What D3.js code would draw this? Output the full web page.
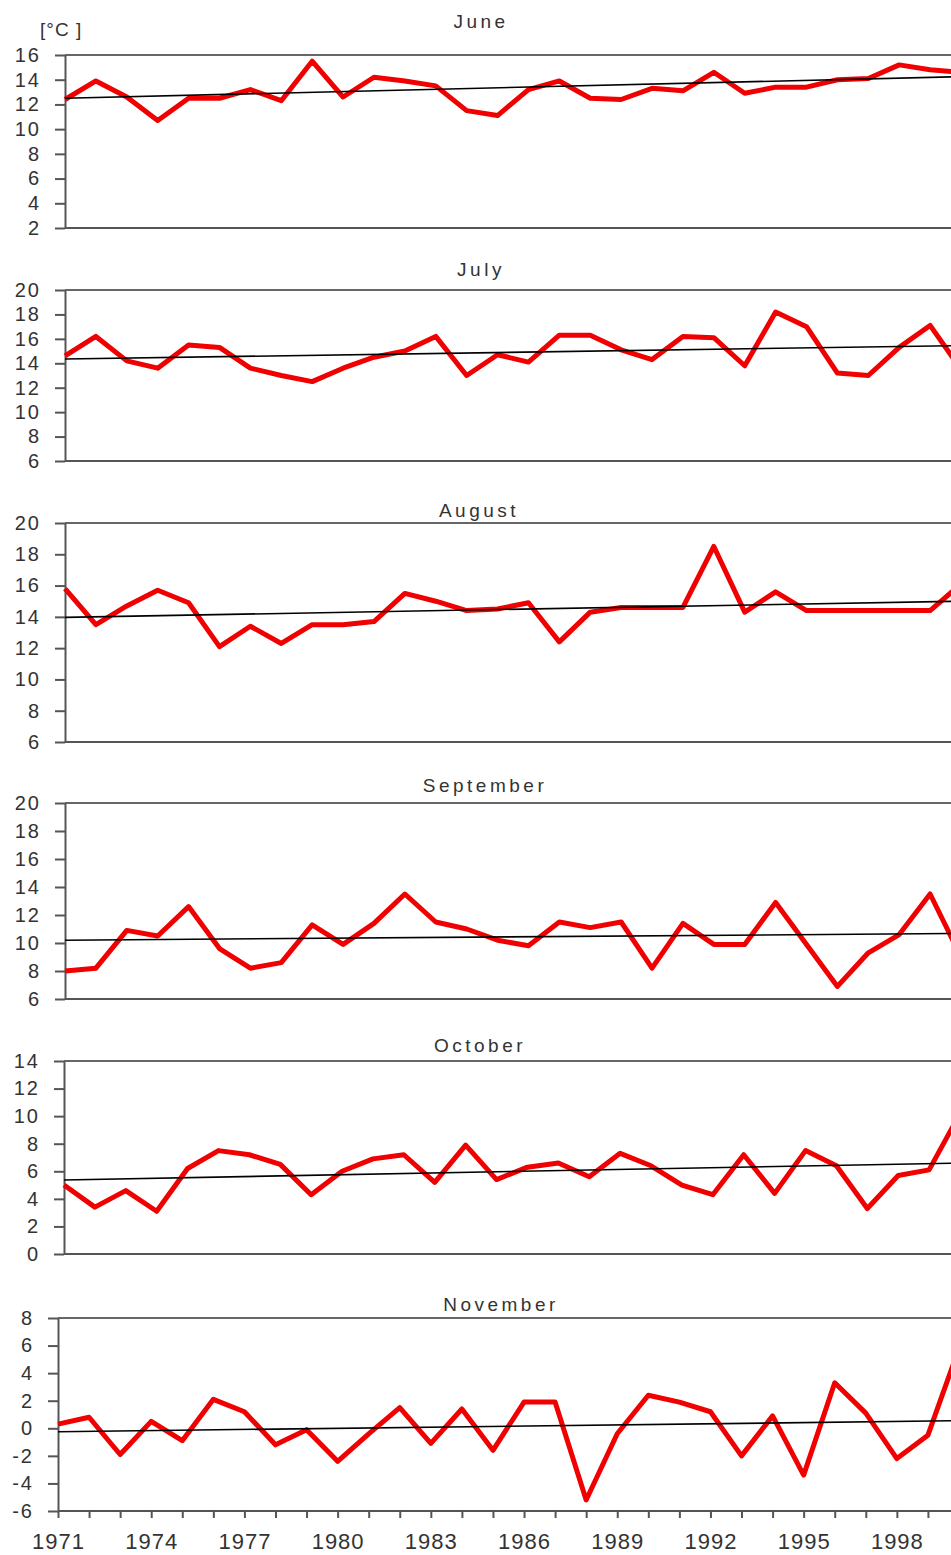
<!DOCTYPE html>
<html>
<head>
<meta charset="utf-8">
<script src="https://cdn.jsdelivr.net/npm/d3@7/dist/d3.min.js"></script>
<style>
  body { margin: 0; background: #fff; }
  text { font-family: "Liberation Sans", Arial, sans-serif; fill: #333; }
</style>
</head>
<body>
<svg id="chart" width="951" height="1555"></svg>
<script>
// data
var years = [1971, 1972, 1973, 1974, 1975, 1976, 1977, 1978, 1979, 1980,
             1981, 1982, 1983, 1984, 1985, 1986, 1987, 1988, 1989, 1990,
             1991, 1992, 1993, 1994, 1995, 1996, 1997, 1998, 1999, 2000];
var yearLabels = [1971, 1974, 1977, 1980, 1983, 1986, 1989, 1992, 1995, 1998];
var months = ["June", "July", "August", "September", "October", "November"];

var yTicks = [
  [2, 4, 6, 8, 10, 12, 14, 16],
  [6, 8, 10, 12, 14, 16, 18, 20],
  [6, 8, 10, 12, 14, 16, 18, 20],
  [6, 8, 10, 12, 14, 16, 18, 20],
  [0, 2, 4, 6, 8, 10, 12, 14],
  [-6, -4, -2, 0, 2, 4, 6, 8]
];

var june = [12.4, 13.9, 12.6, 10.7, 12.5, 12.5, 13.2, 12.3, 15.5, 12.6,
            14.2, 13.9, 13.5, 11.5, 11.1, 13.2, 13.9, 12.5, 12.4, 13.3,
            13.1, 14.6, 12.9, 13.4, 13.4, 14.0, 14.1, 15.2, 14.8, 14.6];
var july = [14.6, 16.2, 14.2, 13.6, 15.5, 15.3, 13.6, 13.0, 12.5, 13.6,
            14.5, 15.0, 16.2, 13.0, 14.7, 14.1, 16.3, 16.3, 15.1, 14.3,
            16.2, 16.1, 13.8, 18.2, 17.0, 13.2, 13.0, 15.3, 17.1, 13.5];
var august = [15.8, 13.5, 14.7, 15.7, 14.9, 12.1, 13.4, 12.3, 13.5, 13.5,
              13.7, 15.5, 15.0, 14.4, 14.5, 14.9, 12.4, 14.3, 14.6, 14.6,
              14.6, 18.5, 14.3, 15.6, 14.4, 14.4, 14.4, 14.4, 14.4, 16.1];
var september = [8.0, 8.2, 10.9, 10.5, 12.6, 9.6, 8.2, 8.6, 11.3, 9.9,
                 11.4, 13.5, 11.5, 11.0, 10.2, 9.8, 11.5, 11.1, 11.5, 8.2,
                 11.4, 9.9, 9.9, 12.9, 9.9, 6.9, 9.3, 10.6, 13.5, 9.0];
var october = [5.0, 3.4, 4.6, 3.1, 6.2, 7.5, 7.2, 6.5, 4.3, 6.0,
               6.9, 7.2, 5.2, 7.9, 5.4, 6.3, 6.6, 5.6, 7.3, 6.4,
               5.0, 4.3, 7.2, 4.4, 7.5, 6.4, 3.3, 5.7, 6.1, 10.2];
var november = [0.3, 0.8, -1.9, 0.5, -0.9, 2.1, 1.2, -1.2, -0.1, -2.4,
                -0.4, 1.5, -1.1, 1.4, -1.6, 1.9, 1.9, -5.2, -0.4, 2.4,
                1.9, 1.2, -2.0, 0.9, -3.4, 3.3, 1.1, -2.2, -0.5, 5.8];
var series = [june, july, august, september, october, november];

// linear trend, value at 1971 and at 2000
var trendStart = [12.5, 14.35, 13.97, 10.2, 5.37, -0.25];
var trendEnd = [14.25, 15.45, 15.0, 10.68, 6.6, 0.55];

// panel geometry
var panels = [
  { top: 55,   bottom: 228,  left: 65, right: 961, titleX: 481, titleY: 28 },
  { top: 290,  bottom: 461,  left: 65, right: 961, titleX: 481, titleY: 276 },
  { top: 523,  bottom: 742,  left: 65, right: 961, titleX: 479, titleY: 517 },
  { top: 803,  bottom: 999,  left: 65, right: 961, titleX: 485, titleY: 792 },
  { top: 1061, bottom: 1254, left: 64, right: 960, titleX: 480, titleY: 1052 },
  { top: 1318, bottom: 1511, left: 58, right: 959, titleX: 501, titleY: 1311 }
];

var svg = d3.select("#chart");

svg.append("text").attr("x", 40).attr("y", 36)
   .text("[°C ]").style("font-size", "19px").style("letter-spacing", "1px");

panels.forEach(function(p, i) {
  var ticks = yTicks[i];
  var x = d3.scaleLinear().domain([years[0], years[years.length - 1]]).range([p.left, p.right]);
  var y = d3.scaleLinear().domain([ticks[0], ticks[ticks.length - 1]]).range([p.bottom, p.top]);
  var g = svg.append("g");

  // top frame line
  g.append("line")
   .attr("x1", p.left).attr("x2", 951)
   .attr("y1", y(ticks[ticks.length - 1])).attr("y2", y(ticks[ticks.length - 1]))
   .style("stroke", "#666").style("stroke-width", 2);

  // y axis
  var ya = g.append("g").attr("transform", "translate(" + p.left + ",0)")
    .call(d3.axisLeft(y).tickValues(ticks).tickSize(10).tickSizeOuter(0).tickPadding(14)
      .tickFormat(function(d) { return String(d); }));
  ya.selectAll("path, line").style("stroke", "#555").style("stroke-width", 2);
  ya.selectAll("text").style("font-size", "20px").style("letter-spacing", "2px")
    .style("font-family", "Liberation Sans, Arial, sans-serif").style("fill", "#333");

  // x axis
  var xAxis = d3.axisBottom(x).tickSizeOuter(0);
  if (i === panels.length - 1) {
    xAxis.tickValues(years).tickSize(7).tickPadding(15)
      .tickFormat(function(d) { return yearLabels.indexOf(d) >= 0 ? d : ""; });
  } else {
    xAxis.tickValues([]);
  }
  var xa = g.append("g").attr("transform", "translate(0," + p.bottom + ")").call(xAxis);
  xa.select(".domain").attr("d", "M" + p.left + ",0H951");
  xa.selectAll("path, line").style("stroke", "#555").style("stroke-width", 2);
  xa.selectAll("text").style("font-size", "22px").style("letter-spacing", "1px")
    .style("font-family", "Liberation Sans, Arial, sans-serif").style("fill", "#333");

  // title
  g.append("text").attr("x", p.titleX).attr("y", p.titleY)
   .attr("text-anchor", "middle")
   .text(months[i]).style("font-size", "19px").style("letter-spacing", "3.5px");

  // temperature line
  var line = d3.line().x(function(d, k) { return x(years[k]); }).y(function(d) { return y(d); });
  g.append("path").datum(series[i]).attr("d", line)
   .style("fill", "none").style("stroke", "#f00000").style("stroke-width", 5)
   .style("stroke-linejoin", "round");

  // trend
  g.append("line")
   .attr("x1", x(years[0])).attr("y1", y(trendStart[i]))
   .attr("x2", x(years[years.length - 1])).attr("y2", y(trendEnd[i]))
   .style("stroke", "#000").style("stroke-width", 1.6);
});
</script>
</body>
</html>
